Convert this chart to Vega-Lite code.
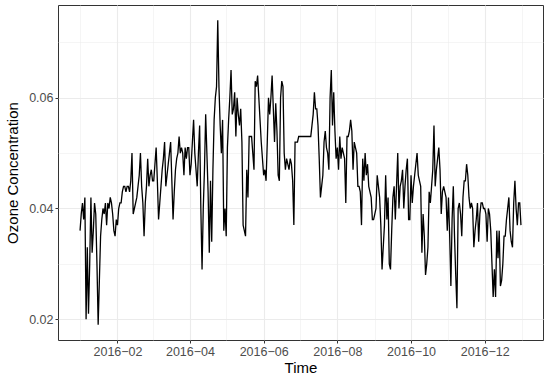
{
"$schema": "https://vega.github.io/schema/vega-lite/v6.json",
"width": 485, "height": 335,
"autosize": "none",
"padding": {"left": 58, "top": 5, "right": 7, "bottom": 42},
"background": "white",
"config": {"view": {"stroke": "#333333", "strokeWidth": 1}, "font": "Liberation Sans"},
"data": {"values": [
{"t":"2016-01-01","o":0.036},{"t":"2016-01-02","o":0.039},{"t":"2016-01-03","o":0.041},{"t":"2016-01-04","o":0.038},{"t":"2016-01-05","o":0.042},{"t":"2016-01-06","o":0.020},{"t":"2016-01-07","o":0.033},{"t":"2016-01-08","o":0.021},{"t":"2016-01-09","o":0.030},{"t":"2016-01-10","o":0.042},
{"t":"2016-01-11","o":0.032},{"t":"2016-01-12","o":0.036},{"t":"2016-01-13","o":0.041},{"t":"2016-01-14","o":0.039},{"t":"2016-01-15","o":0.030},{"t":"2016-01-16","o":0.019},{"t":"2016-01-17","o":0.027},{"t":"2016-01-18","o":0.035},{"t":"2016-01-19","o":0.038},{"t":"2016-01-20","o":0.040},
{"t":"2016-01-21","o":0.039},{"t":"2016-01-22","o":0.041},{"t":"2016-01-23","o":0.037},{"t":"2016-01-24","o":0.041},{"t":"2016-01-25","o":0.040},{"t":"2016-01-26","o":0.042},{"t":"2016-01-27","o":0.041},{"t":"2016-01-28","o":0.039},{"t":"2016-01-29","o":0.036},{"t":"2016-01-30","o":0.035},{"t":"2016-01-31","o":0.038},
{"t":"2016-02-01","o":0.037},{"t":"2016-02-02","o":0.040},{"t":"2016-02-03","o":0.041},{"t":"2016-02-04","o":0.041},{"t":"2016-02-05","o":0.043},{"t":"2016-02-06","o":0.044},{"t":"2016-02-07","o":0.044},{"t":"2016-02-08","o":0.043},{"t":"2016-02-09","o":0.044},{"t":"2016-02-10","o":0.044},
{"t":"2016-02-11","o":0.043},{"t":"2016-02-12","o":0.045},{"t":"2016-02-13","o":0.050},{"t":"2016-02-14","o":0.039},{"t":"2016-02-15","o":0.040},{"t":"2016-02-16","o":0.041},{"t":"2016-02-17","o":0.042},{"t":"2016-02-18","o":0.044},{"t":"2016-02-19","o":0.046},{"t":"2016-02-20","o":0.050},
{"t":"2016-02-21","o":0.044},{"t":"2016-02-22","o":0.041},{"t":"2016-02-23","o":0.035},{"t":"2016-02-24","o":0.041},{"t":"2016-02-25","o":0.044},{"t":"2016-02-26","o":0.049},{"t":"2016-02-27","o":0.044},{"t":"2016-02-28","o":0.046},{"t":"2016-02-29","o":0.047},
{"t":"2016-03-01","o":0.045},{"t":"2016-03-02","o":0.045},{"t":"2016-03-03","o":0.048},{"t":"2016-03-04","o":0.051},{"t":"2016-03-05","o":0.045},{"t":"2016-03-06","o":0.038},{"t":"2016-03-07","o":0.041},{"t":"2016-03-08","o":0.044},{"t":"2016-03-09","o":0.047},{"t":"2016-03-10","o":0.049},
{"t":"2016-03-11","o":0.052},{"t":"2016-03-12","o":0.044},{"t":"2016-03-13","o":0.046},{"t":"2016-03-14","o":0.048},{"t":"2016-03-15","o":0.050},{"t":"2016-03-16","o":0.052},{"t":"2016-03-17","o":0.045},{"t":"2016-03-18","o":0.038},{"t":"2016-03-19","o":0.043},{"t":"2016-03-20","o":0.047},
{"t":"2016-03-21","o":0.049},{"t":"2016-03-22","o":0.050},{"t":"2016-03-23","o":0.053},{"t":"2016-03-24","o":0.050},{"t":"2016-03-25","o":0.051},{"t":"2016-03-26","o":0.050},{"t":"2016-03-27","o":0.046},{"t":"2016-03-28","o":0.051},{"t":"2016-03-29","o":0.049},{"t":"2016-03-30","o":0.051},{"t":"2016-03-31","o":0.051},
{"t":"2016-04-01","o":0.046},{"t":"2016-04-02","o":0.048},{"t":"2016-04-03","o":0.052},{"t":"2016-04-04","o":0.056},{"t":"2016-04-05","o":0.050},{"t":"2016-04-06","o":0.047},{"t":"2016-04-07","o":0.044},{"t":"2016-04-08","o":0.050},{"t":"2016-04-09","o":0.055},{"t":"2016-04-10","o":0.040},
{"t":"2016-04-11","o":0.029},{"t":"2016-04-12","o":0.040},{"t":"2016-04-13","o":0.047},{"t":"2016-04-14","o":0.057},{"t":"2016-04-15","o":0.050},{"t":"2016-04-16","o":0.043},{"t":"2016-04-17","o":0.032},{"t":"2016-04-18","o":0.045},{"t":"2016-04-19","o":0.034},{"t":"2016-04-20","o":0.047},
{"t":"2016-04-21","o":0.056},{"t":"2016-04-22","o":0.060},{"t":"2016-04-23","o":0.062},{"t":"2016-04-24","o":0.074},{"t":"2016-04-25","o":0.062},{"t":"2016-04-26","o":0.055},{"t":"2016-04-27","o":0.050},{"t":"2016-04-28","o":0.056},{"t":"2016-04-29","o":0.036},{"t":"2016-04-30","o":0.040},
{"t":"2016-05-01","o":0.035},{"t":"2016-05-02","o":0.051},{"t":"2016-05-03","o":0.056},{"t":"2016-05-04","o":0.060},{"t":"2016-05-05","o":0.065},{"t":"2016-05-06","o":0.057},{"t":"2016-05-07","o":0.058},{"t":"2016-05-08","o":0.061},{"t":"2016-05-09","o":0.053},{"t":"2016-05-10","o":0.060},
{"t":"2016-05-11","o":0.057},{"t":"2016-05-12","o":0.055},{"t":"2016-05-13","o":0.058},{"t":"2016-05-14","o":0.052},{"t":"2016-05-15","o":0.037},{"t":"2016-05-16","o":0.036},{"t":"2016-05-17","o":0.035},{"t":"2016-05-18","o":0.047},{"t":"2016-05-19","o":0.042},{"t":"2016-05-20","o":0.053},
{"t":"2016-05-21","o":0.053},{"t":"2016-05-22","o":0.053},{"t":"2016-05-23","o":0.050},{"t":"2016-05-24","o":0.047},{"t":"2016-05-25","o":0.063},{"t":"2016-05-26","o":0.062},{"t":"2016-05-27","o":0.064},{"t":"2016-05-28","o":0.060},{"t":"2016-05-29","o":0.056},{"t":"2016-05-30","o":0.052},{"t":"2016-05-31","o":0.049},
{"t":"2016-06-01","o":0.046},{"t":"2016-06-02","o":0.047},{"t":"2016-06-03","o":0.045},{"t":"2016-06-04","o":0.052},{"t":"2016-06-05","o":0.060},{"t":"2016-06-06","o":0.057},{"t":"2016-06-07","o":0.060},{"t":"2016-06-08","o":0.064},{"t":"2016-06-09","o":0.058},{"t":"2016-06-10","o":0.052},
{"t":"2016-06-11","o":0.059},{"t":"2016-06-12","o":0.054},{"t":"2016-06-13","o":0.046},{"t":"2016-06-14","o":0.045},{"t":"2016-06-15","o":0.060},{"t":"2016-06-16","o":0.063},{"t":"2016-06-17","o":0.062},{"t":"2016-06-18","o":0.050},{"t":"2016-06-19","o":0.047},{"t":"2016-06-20","o":0.049},
{"t":"2016-06-21","o":0.048},{"t":"2016-06-22","o":0.047},{"t":"2016-06-23","o":0.049},{"t":"2016-06-24","o":0.048},{"t":"2016-06-25","o":0.045},{"t":"2016-06-26","o":0.037},{"t":"2016-06-27","o":0.052},{"t":"2016-06-28","o":0.052},{"t":"2016-06-29","o":0.052},{"t":"2016-06-30","o":0.053},
{"t":"2016-07-01","o":0.053},{"t":"2016-07-02","o":0.053},{"t":"2016-07-03","o":0.053},{"t":"2016-07-04","o":0.053},{"t":"2016-07-05","o":0.053},{"t":"2016-07-06","o":0.053},{"t":"2016-07-07","o":0.053},{"t":"2016-07-08","o":0.053},{"t":"2016-07-09","o":0.053},{"t":"2016-07-10","o":0.053},
{"t":"2016-07-11","o":0.055},{"t":"2016-07-12","o":0.057},{"t":"2016-07-13","o":0.061},{"t":"2016-07-14","o":0.058},{"t":"2016-07-15","o":0.058},{"t":"2016-07-16","o":0.055},{"t":"2016-07-17","o":0.049},{"t":"2016-07-18","o":0.042},{"t":"2016-07-19","o":0.044},{"t":"2016-07-20","o":0.046},
{"t":"2016-07-21","o":0.052},{"t":"2016-07-22","o":0.054},{"t":"2016-07-23","o":0.051},{"t":"2016-07-24","o":0.050},{"t":"2016-07-25","o":0.047},{"t":"2016-07-26","o":0.060},{"t":"2016-07-27","o":0.065},{"t":"2016-07-28","o":0.055},{"t":"2016-07-29","o":0.061},{"t":"2016-07-30","o":0.054},{"t":"2016-07-31","o":0.049},
{"t":"2016-08-01","o":0.051},{"t":"2016-08-02","o":0.047},{"t":"2016-08-03","o":0.053},{"t":"2016-08-04","o":0.049},{"t":"2016-08-05","o":0.051},{"t":"2016-08-06","o":0.050},{"t":"2016-08-07","o":0.049},{"t":"2016-08-08","o":0.041},{"t":"2016-08-09","o":0.053},{"t":"2016-08-10","o":0.053},
{"t":"2016-08-11","o":0.054},{"t":"2016-08-12","o":0.056},{"t":"2016-08-13","o":0.054},{"t":"2016-08-14","o":0.047},{"t":"2016-08-15","o":0.052},{"t":"2016-08-16","o":0.051},{"t":"2016-08-17","o":0.050},{"t":"2016-08-18","o":0.044},{"t":"2016-08-19","o":0.044},{"t":"2016-08-20","o":0.043},
{"t":"2016-08-21","o":0.037},{"t":"2016-08-22","o":0.049},{"t":"2016-08-23","o":0.045},{"t":"2016-08-24","o":0.050},{"t":"2016-08-25","o":0.046},{"t":"2016-08-26","o":0.048},{"t":"2016-08-27","o":0.044},{"t":"2016-08-28","o":0.043},{"t":"2016-08-29","o":0.042},{"t":"2016-08-30","o":0.038},{"t":"2016-08-31","o":0.038},
{"t":"2016-09-01","o":0.039},{"t":"2016-09-02","o":0.040},{"t":"2016-09-03","o":0.046},{"t":"2016-09-04","o":0.044},{"t":"2016-09-05","o":0.042},{"t":"2016-09-06","o":0.037},{"t":"2016-09-07","o":0.029},{"t":"2016-09-08","o":0.033},{"t":"2016-09-09","o":0.037},{"t":"2016-09-10","o":0.046},
{"t":"2016-09-11","o":0.038},{"t":"2016-09-12","o":0.042},{"t":"2016-09-13","o":0.030},{"t":"2016-09-14","o":0.029},{"t":"2016-09-15","o":0.036},{"t":"2016-09-16","o":0.042},{"t":"2016-09-17","o":0.044},{"t":"2016-09-18","o":0.038},{"t":"2016-09-19","o":0.044},{"t":"2016-09-20","o":0.050},
{"t":"2016-09-21","o":0.040},{"t":"2016-09-22","o":0.044},{"t":"2016-09-23","o":0.045},{"t":"2016-09-24","o":0.047},{"t":"2016-09-25","o":0.040},{"t":"2016-09-26","o":0.044},{"t":"2016-09-27","o":0.047},{"t":"2016-09-28","o":0.049},{"t":"2016-09-29","o":0.038},{"t":"2016-09-30","o":0.038},
{"t":"2016-10-01","o":0.046},{"t":"2016-10-02","o":0.041},{"t":"2016-10-03","o":0.044},{"t":"2016-10-04","o":0.046},{"t":"2016-10-05","o":0.048},{"t":"2016-10-06","o":0.050},{"t":"2016-10-07","o":0.046},{"t":"2016-10-08","o":0.045},{"t":"2016-10-09","o":0.044},{"t":"2016-10-10","o":0.032},
{"t":"2016-10-11","o":0.039},{"t":"2016-10-12","o":0.035},{"t":"2016-10-13","o":0.028},{"t":"2016-10-14","o":0.030},{"t":"2016-10-15","o":0.033},{"t":"2016-10-16","o":0.043},{"t":"2016-10-17","o":0.041},{"t":"2016-10-18","o":0.044},{"t":"2016-10-19","o":0.047},{"t":"2016-10-20","o":0.055},
{"t":"2016-10-21","o":0.044},{"t":"2016-10-22","o":0.047},{"t":"2016-10-23","o":0.049},{"t":"2016-10-24","o":0.051},{"t":"2016-10-25","o":0.047},{"t":"2016-10-26","o":0.039},{"t":"2016-10-27","o":0.043},{"t":"2016-10-28","o":0.044},{"t":"2016-10-29","o":0.043},{"t":"2016-10-30","o":0.042},{"t":"2016-10-31","o":0.036},
{"t":"2016-11-01","o":0.042},{"t":"2016-11-02","o":0.035},{"t":"2016-11-03","o":0.026},{"t":"2016-11-04","o":0.038},{"t":"2016-11-05","o":0.044},{"t":"2016-11-06","o":0.035},{"t":"2016-11-07","o":0.028},{"t":"2016-11-08","o":0.022},{"t":"2016-11-09","o":0.040},{"t":"2016-11-10","o":0.041},
{"t":"2016-11-11","o":0.039},{"t":"2016-11-12","o":0.035},{"t":"2016-11-13","o":0.042},{"t":"2016-11-14","o":0.045},{"t":"2016-11-15","o":0.045},{"t":"2016-11-16","o":0.048},{"t":"2016-11-17","o":0.046},{"t":"2016-11-18","o":0.042},{"t":"2016-11-19","o":0.040},{"t":"2016-11-20","o":0.041},
{"t":"2016-11-21","o":0.040},{"t":"2016-11-22","o":0.033},{"t":"2016-11-23","o":0.036},{"t":"2016-11-24","o":0.038},{"t":"2016-11-25","o":0.041},{"t":"2016-11-26","o":0.034},{"t":"2016-11-27","o":0.039},{"t":"2016-11-28","o":0.041},{"t":"2016-11-29","o":0.041},{"t":"2016-11-30","o":0.040},
{"t":"2016-12-01","o":0.040},{"t":"2016-12-02","o":0.039},{"t":"2016-12-03","o":0.034},{"t":"2016-12-04","o":0.040},{"t":"2016-12-05","o":0.039},{"t":"2016-12-06","o":0.036},{"t":"2016-12-07","o":0.030},{"t":"2016-12-08","o":0.024},{"t":"2016-12-09","o":0.029},{"t":"2016-12-10","o":0.024},
{"t":"2016-12-11","o":0.036},{"t":"2016-12-12","o":0.031},{"t":"2016-12-13","o":0.036},{"t":"2016-12-14","o":0.026},{"t":"2016-12-15","o":0.027},{"t":"2016-12-16","o":0.030},{"t":"2016-12-17","o":0.035},{"t":"2016-12-18","o":0.035},{"t":"2016-12-19","o":0.038},{"t":"2016-12-20","o":0.040},
{"t":"2016-12-21","o":0.042},{"t":"2016-12-22","o":0.036},{"t":"2016-12-23","o":0.034},{"t":"2016-12-24","o":0.033},{"t":"2016-12-25","o":0.041},{"t":"2016-12-26","o":0.045},{"t":"2016-12-27","o":0.040},{"t":"2016-12-28","o":0.037},{"t":"2016-12-29","o":0.041},{"t":"2016-12-30","o":0.041},{"t":"2016-12-31","o":0.037}
]},
"mark": {"type": "line", "color": "black", "strokeWidth": 1.3},
"encoding": {
"x": {"field": "t", "type": "temporal",
 "scale": {"type": "utc", "domain": [{"year": 2015, "month": 12, "date": 13, "hours": 18, "utc": true}, {"year": 2017, "month": 1, "date": 18, "hours": 6, "utc": true}]},
 "axis": {"title": "Time",
  "values": [{"year":2016,"month":1,"date":1,"utc":true},{"year":2016,"month":2,"date":1,"utc":true},{"year":2016,"month":3,"date":1,"utc":true},{"year":2016,"month":4,"date":1,"utc":true},{"year":2016,"month":5,"date":1,"utc":true},{"year":2016,"month":6,"date":1,"utc":true},{"year":2016,"month":7,"date":1,"utc":true},{"year":2016,"month":8,"date":1,"utc":true},{"year":2016,"month":9,"date":1,"utc":true},{"year":2016,"month":10,"date":1,"utc":true},{"year":2016,"month":11,"date":1,"utc":true},{"year":2016,"month":12,"date":1,"utc":true},{"year":2017,"month":1,"date":1,"utc":true}],
  "labelExpr": "utcmonth(datum.value) % 2 == 1 ? utcFormat(datum.value, '%Y−%m') : ''",
  "grid": true, "gridColor": "#EBEBEB",
  "gridWidth": {"condition": {"test": "utcmonth(datum.value) % 2 == 1", "value": 1.1}, "value": 0.5},
  "tickOpacity": {"condition": {"test": "utcmonth(datum.value) % 2 == 1", "value": 1}, "value": 0},
  "tickColor": "#333333", "tickSize": 3, "domain": false,
  "labelFontSize": 12.5, "labelColor": "#4D4D4D", "labelPadding": 2, "labelFlush": false, "labelOverlap": false,
  "titleFontSize": 15, "titleFontWeight": "normal", "titleColor": "black", "titlePadding": 3}},
"y": {"field": "o", "type": "quantitative",
 "scale": {"domain": [0.01625, 0.07675], "nice": false, "zero": false},
 "axis": {"title": "Ozone Concentration",
  "values": [0.02, 0.03, 0.04, 0.05, 0.06, 0.07],
  "labelExpr": "round(datum.value*100) % 2 == 0 ? format(datum.value, '.2f') : ''",
  "grid": true, "gridColor": "#EBEBEB",
  "gridWidth": {"condition": {"test": "round(datum.value*100) % 2 == 0", "value": 1.1}, "value": 0.5},
  "tickOpacity": {"condition": {"test": "round(datum.value*100) % 2 == 0", "value": 1}, "value": 0},
  "tickColor": "#333333", "tickSize": 3, "domain": false,
  "labelFontSize": 12.5, "labelColor": "#4D4D4D", "labelPadding": 2, "labelOverlap": false,
  "titleFontSize": 15, "titleFontWeight": "normal", "titleColor": "black", "titlePadding": 8}}
}
}
